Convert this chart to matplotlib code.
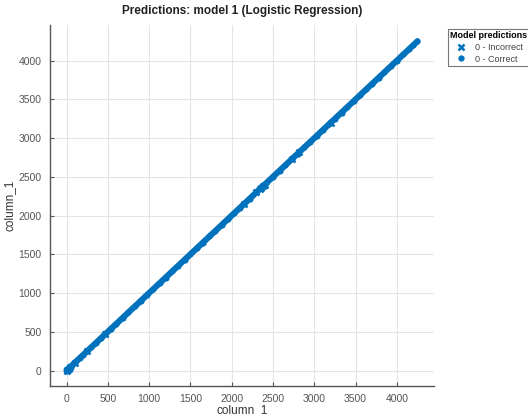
import matplotlib
matplotlib.use("Agg")
import matplotlib.pyplot as plt
from matplotlib.lines import Line2D

plt.rcParams['font.family'] = ['Liberation Sans', 'DejaVu Sans']

title = "Predictions: model 1 (Logistic Regression)"
x_label = "column_1"
y_label = "column_1"
legend_title = "Model predictions"
labels = ["0 - Incorrect", "0 - Correct"]
ticks = [0, 500, 1000, 1500, 2000, 2500, 3000, 3500, 4000]

# Correct predictions (column_1 vs column_1)
correct_vals = [0, 5, 12, 20, 35, 50, 70, 95, 120, 160, 200, 250, 300, 360, 420,
                470, 540, 600, 680, 750, 830, 900, 980, 1050, 1130, 1200, 1280,
                1350, 1430, 1500, 1580, 1650, 1730, 1800, 1880, 1950, 2030, 2100,
                2150, 2220, 2300, 2350, 2380, 2420, 2500, 2580, 2650, 2730, 2800,
                2880, 2950, 3030, 3100, 3180, 3250, 3330, 3400, 3480, 3550, 3630,
                3700, 3780, 3850, 3930, 4000, 4080, 4150, 4200, 4250]
# Incorrect predictions
incorrect_vals = [0, 10, 25, 45, 100, 250, 470, 2150, 2300, 2340, 2360, 2380,
                  2400, 2730, 2820, 3200]

blue = "#0072BD"

fig = plt.figure(figsize=(5.28, 4.16), dpi=100)
ax = fig.add_axes([50/528, 1-386/416, (434-50)/528, (386-25)/416])

ax.plot(correct_vals, correct_vals, '-', color=blue, lw=4.4, solid_capstyle='round', zorder=2)
ax.plot(correct_vals, correct_vals, 'o', color=blue, ms=4.4, mew=0, zorder=3)
ax.plot(incorrect_vals, incorrect_vals, 'x', color=blue, ms=5, mew=1.8, zorder=4)

ax.set_xlim(-200, 4450)
ax.set_ylim(-200, 4460)
ax.set_xticks(ticks)
ax.set_yticks(ticks)
ax.grid(True, color='#e4e4e4', lw=0.8)
ax.set_axisbelow(True)
for s in ['top', 'right']:
    ax.spines[s].set_visible(False)
for s in ['left', 'bottom']:
    ax.spines[s].set_color('#555555')
    ax.spines[s].set_linewidth(1.0)
ax.tick_params(labelsize=7.5, colors='#555555', labelcolor='#555555', length=3,
               width=0.8, direction='in', pad=6)
ax.set_xlabel(x_label, fontsize=8.5, color='#333333', labelpad=0)
ax.set_ylabel(y_label, fontsize=8.5, color='#333333', labelpad=2)
ax.set_title(title, fontsize=8.5, fontweight='bold', color='#222222', pad=8)

handles = [Line2D([], [], ls='none', marker='x', color=blue, ms=4.5, mew=1.8),
           Line2D([], [], ls='none', marker='o', color=blue, ms=3.5)]
leg = fig.legend(handles, labels, title=legend_title, loc='upper left',
                 bbox_to_anchor=(443/528, 1-24/416), fontsize=6.5,
                 title_fontproperties={'weight': 'bold', 'size': 6.5},
                 frameon=True, fancybox=False, edgecolor='#555555',
                 handlelength=1.5, handletextpad=0.8, borderpad=0.3,
                 labelspacing=0.3)
leg.get_frame().set_linewidth(0.8)
for t in leg.get_texts():
    t.set_color('#444444')

fig.savefig("out.png", dpi=100)
